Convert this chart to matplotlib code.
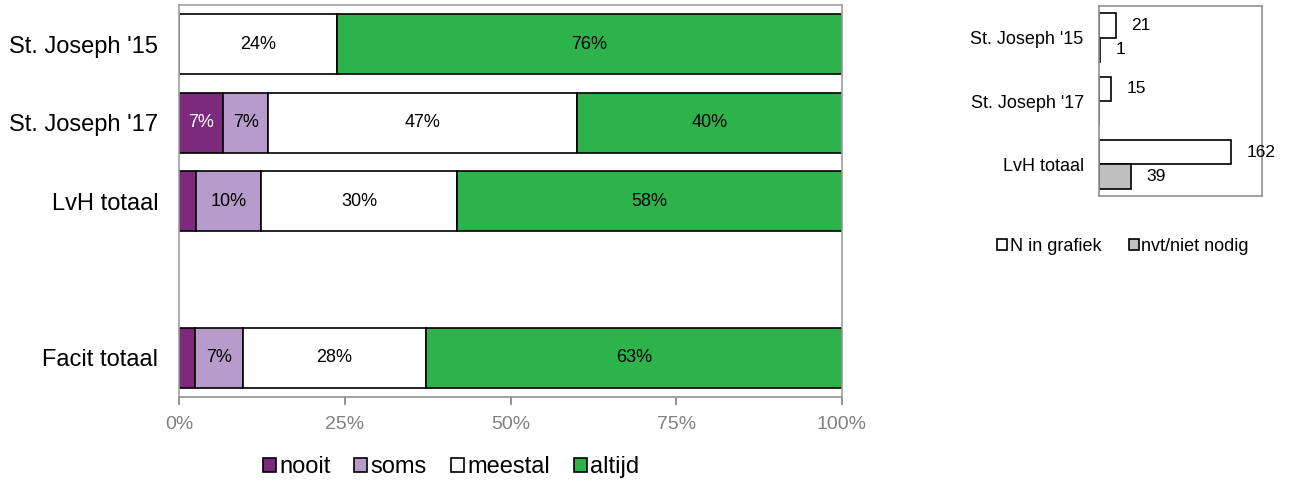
import numpy as np
import matplotlib.pyplot as plt
from matplotlib.ticker import PercentFormatter

plt.rcParams['font.family'] = ['Liberation Sans', 'DejaVu Sans']

# main chart data (percentages)
groups = ["St. Joseph '15", "St. Joseph '17", "LvH totaal", "", "Facit totaal"]
series = ["nooit", "soms", "meestal", "altijd"]
nooit = [0.0, 6.7, 2.5, 0.0, 2.4]
soms = [0.0, 6.7, 9.9, 0.0, 7.2]
meestal = [23.8, 46.7, 29.6, 0.0, 27.7]
altijd = [76.2, 40.0, 58.0, 0.0, 62.7]
has_bar = [True, True, True, False, True]
colors = ["#7B2A7E", "#B79CCB", "#FFFFFF", "#2DB34B"]
label_colors = ["white", "black", "black", "black"]

# side chart data (counts)
side_groups = ["St. Joseph '15", "St. Joseph '17", "LvH totaal"]
n_grafiek = [21, 15, 162]
n_nvt = [1, None, 39]

fig = plt.figure(figsize=(12.91, 4.86), dpi=100)

ax = fig.add_axes([179 / 1291, 1 - 397 / 486, 663 / 1291, 392 / 486])
y = np.arange(len(groups))
left = np.zeros(len(groups))
for vals, name, col, tc in zip([nooit, soms, meestal, altijd], series, colors, label_colors):
    vals = np.array(vals)
    bars = ax.barh(y, vals, left=left, height=0.765, color=col, edgecolor="black",
                   linewidth=1.2, label=name)
    for i, (b, v) in enumerate(zip(bars, vals)):
        if not has_bar[i]:
            b.set_visible(False)
            continue
        if v >= 5:
            ax.text(left[i] + v / 2, y[i], f"{v:.0f}%", ha="center", va="center",
                    fontsize=13, color=tc)
    left += vals

ax.set_xlim(0, 100)
ax.set_ylim(len(groups) - 0.5, -0.5)
ax.set_yticks(y)
ax.set_yticklabels(groups, fontsize=17)
ax.tick_params(axis="y", length=0, pad=15)
ax.set_xticks([0, 25, 50, 75, 100])
ax.xaxis.set_major_formatter(PercentFormatter(decimals=0))
ax.tick_params(axis="x", colors="#808080", labelsize=14, length=6, width=1.2, pad=8)
for s in ax.spines.values():
    s.set_color("#A0A0A0")
    s.set_linewidth(1.2)
ax.spines["bottom"].set_color("#909090")

ax.legend(loc="center", bbox_to_anchor=(451 / 1291, 1 - 467 / 486),
          bbox_transform=fig.transFigure, ncol=4, frameon=False, fontsize=17,
          handlelength=0.55, handleheight=0.55, handletextpad=0.15, columnspacing=1.0)

# side chart
ax2 = fig.add_axes([1099 / 1291, 1 - 196 / 486, 163 / 1291, 190 / 486])
ys = np.arange(len(side_groups))
h = 0.385
n_vals = np.array(n_grafiek, dtype=float)
ax2.barh(ys - h / 2, n_vals, height=h, color="white", edgecolor="black",
         linewidth=1.2, label="N in grafiek")
nvt_vals = np.array([np.nan if v is None else v for v in n_nvt], dtype=float)
ax2.barh(ys + h / 2, np.nan_to_num(nvt_vals), height=h, color="#BFBFBF", edgecolor="black",
         linewidth=1.2, label="nvt/niet nodig")
for i in range(len(side_groups)):
    ax2.text(n_vals[i] + 19, ys[i] - h / 2, f"{n_vals[i]:.0f}", va="center", ha="left",
             fontsize=12.5)
    if not np.isnan(nvt_vals[i]):
        ax2.text(nvt_vals[i] + 19, ys[i] + h / 2, f"{nvt_vals[i]:.0f}", va="center", ha="left",
                 fontsize=12.5)
ax2.set_xlim(0, 200)
ax2.set_ylim(len(side_groups) - 0.5, -0.5)
ax2.set_xticks([])
ax2.set_yticks(ys)
ax2.set_yticklabels(side_groups, fontsize=13)
ax2.tick_params(axis="y", length=0, pad=11)
for s in ax2.spines.values():
    s.set_color("#909090")
    s.set_linewidth(1.2)

ax2.legend(loc="center", bbox_to_anchor=(1123 / 1291, 1 - 246 / 486),
           bbox_transform=fig.transFigure, ncol=2, frameon=False, fontsize=13,
           handlelength=0.55, handleheight=0.55, handletextpad=0.15, columnspacing=1.5)

fig.savefig("out.png", dpi=100)
